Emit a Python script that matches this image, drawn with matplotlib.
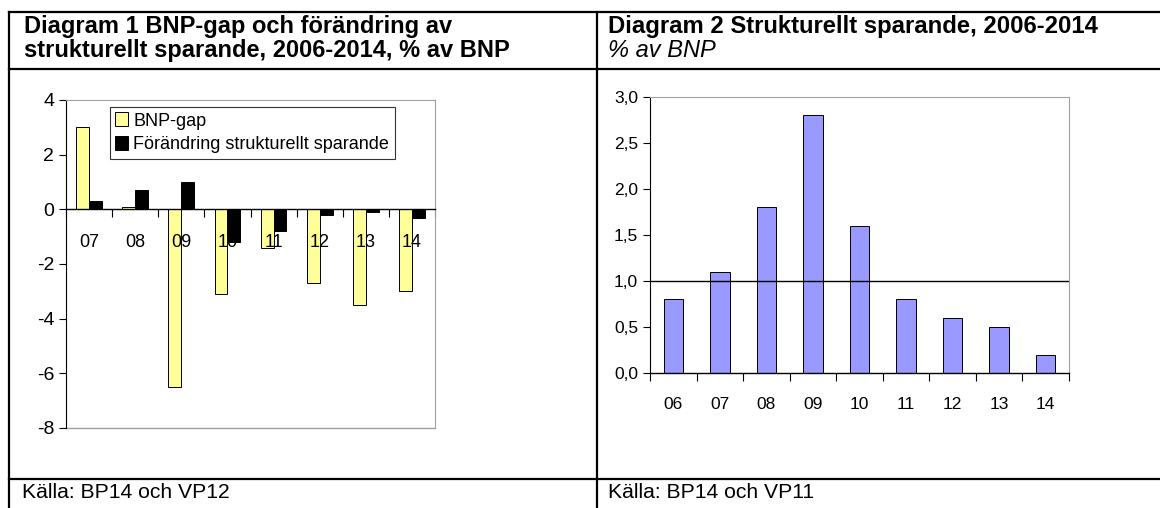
import matplotlib.pyplot as plt
from matplotlib.lines import Line2D
from matplotlib.ticker import FixedLocator, FuncFormatter
import numpy as np

# Data - diagram 1
years1 = ["07", "08", "09", "10", "11", "12", "13", "14"]
bnp_gap = [3.0, 0.1, -6.5, -3.1, -1.4, -2.7, -3.5, -3.0]
struct_change = [0.3, 0.7, 1.0, -1.2, -0.8, -0.2, -0.1, -0.3]

# Data - diagram 2
years2 = ["06", "07", "08", "09", "10", "11", "12", "13", "14"]
struct_saving = [0.8, 1.1, 1.8, 2.8, 1.6, 0.8, 0.6, 0.5, 0.2]

W, H = 1160, 508
plt.rcParams['font.family'] = ['Liberation Sans', 'DejaVu Sans']
plt.rcParams['axes.unicode_minus'] = False
narrow = ['Liberation Sans Narrow', 'DejaVu Sans Condensed', 'Liberation Sans']
gray = '#a0a0a0'

fig = plt.figure(figsize=(W / 100, H / 100), dpi=100)

def fx(px):
    return px / W

def fy(py):
    return 1 - py / H

# table frame
for (x0, y0, x1, y1) in [(9, 12, W, 12), (9, 69, W, 69), (9, 479, W, 479),
                         (9, 12, 9, H), (597, 12, 597, H)]:
    fig.add_artist(Line2D([fx(x0), fx(x1)], [fy(y0), fy(y1)], color='black', lw=1.6))

# titles
fig.text(fx(24), fy(33), "Diagram 1 BNP-gap och förändring av", fontsize=17, fontweight='bold', va='baseline')
fig.text(fx(24), fy(57), "strukturellt sparande, 2006-2014, % av BNP", fontsize=17, fontweight='bold', va='baseline')
fig.text(fx(608), fy(33), "Diagram 2 Strukturellt sparande, 2006-2014", fontsize=17.2, fontweight='bold', va='baseline')
fig.text(fx(608), fy(57), "% av BNP", fontsize=17, fontstyle='italic', va='baseline')
fig.text(fx(22), fy(498), "Källa: BP14 och VP12", fontsize=15.2, va='baseline')
fig.text(fx(608), fy(498), "Källa: BP14 och VP11", fontsize=15.2, va='baseline')

# Diagram 1
ax1 = fig.add_axes([fx(66), fy(428), fx(435 - 66), (428 - 100) / H])
x1 = np.arange(len(years1))
bw = 0.28
ax1.bar(x1 - bw / 2, bnp_gap, bw, color='#ffff99', edgecolor='black', lw=0.7, label='BNP-gap')
ax1.bar(x1 + bw / 2, struct_change, bw, color='black', edgecolor='black', lw=0.7,
        label='Förändring strukturellt sparande')
ax1.set_xlim(-0.5, len(years1) - 0.5)
ax1.set_ylim(-8, 4)
ax1.set_yticks(np.arange(-8, 5, 2))
ax1.tick_params(axis='y', labelsize=14, length=5, direction='out', width=0.8)
ax1.spines['bottom'].set_position(('data', 0))
ax1.spines['bottom'].set_linewidth(1.0)
for s in ['top', 'right']:
    ax1.spines[s].set_color(gray)
ax1.spines['left'].set_linewidth(0.8)
ax1.axhline(-8, color=gray, lw=1.0, clip_on=False, zorder=0)
ax1.set_xticks(x1)
ax1.set_xticklabels(years1)
ax1.xaxis.set_minor_locator(FixedLocator(np.arange(-0.5, len(years1), 1.0)))
ax1.tick_params(axis='x', which='major', length=0, pad=18, labelsize=13)
ax1.tick_params(axis='x', which='minor', length=6, direction='out', width=0.8)
leg = ax1.legend(loc='upper left', bbox_to_anchor=((110 - 66) / 369, (428 - 107) / 328),
                 borderaxespad=0, fancybox=False, edgecolor='black', fontsize=13,
                 handlelength=0.7, handleheight=0.8, handletextpad=0.3,
                 labelspacing=0.35, borderpad=0.3)
leg.get_frame().set_linewidth(0.8)

# Diagram 2
ax2 = fig.add_axes([fx(650), fy(373), fx(1069 - 650), (373 - 97) / H])
x2 = np.arange(len(years2))
ax2.bar(x2, struct_saving, 0.42, color='#9999ff', edgecolor='black', lw=0.7)
ax2.axhline(1.0, color='black', lw=1.0)
ax2.set_xlim(-0.5, len(years2) - 0.5)
ax2.set_ylim(0, 3.0)
ax2.set_yticks(np.arange(0, 3.01, 0.5))
ax2.yaxis.set_major_formatter(FuncFormatter(lambda v, p: f"{v:.1f}".replace('.', ',')))
for s in ['top', 'right']:
    ax2.spines[s].set_color(gray)
ax2.spines['left'].set_linewidth(0.8)
ax2.spines['bottom'].set_linewidth(1.0)
ax2.set_xticks(x2)
ax2.set_xticklabels(years2)
ax2.xaxis.set_minor_locator(FixedLocator(np.arange(-0.5, len(years2), 1.0)))
ax2.tick_params(axis='x', which='major', length=0, pad=17)
ax2.tick_params(axis='x', which='minor', length=6, direction='out', width=0.8)
ax2.tick_params(axis='y', length=5, direction='out', width=0.8)
for lab in ax2.get_xticklabels() + ax2.get_yticklabels():
    lab.set_family(narrow)
    lab.set_fontsize(12.5)

fig.savefig("out.png", dpi=100)
